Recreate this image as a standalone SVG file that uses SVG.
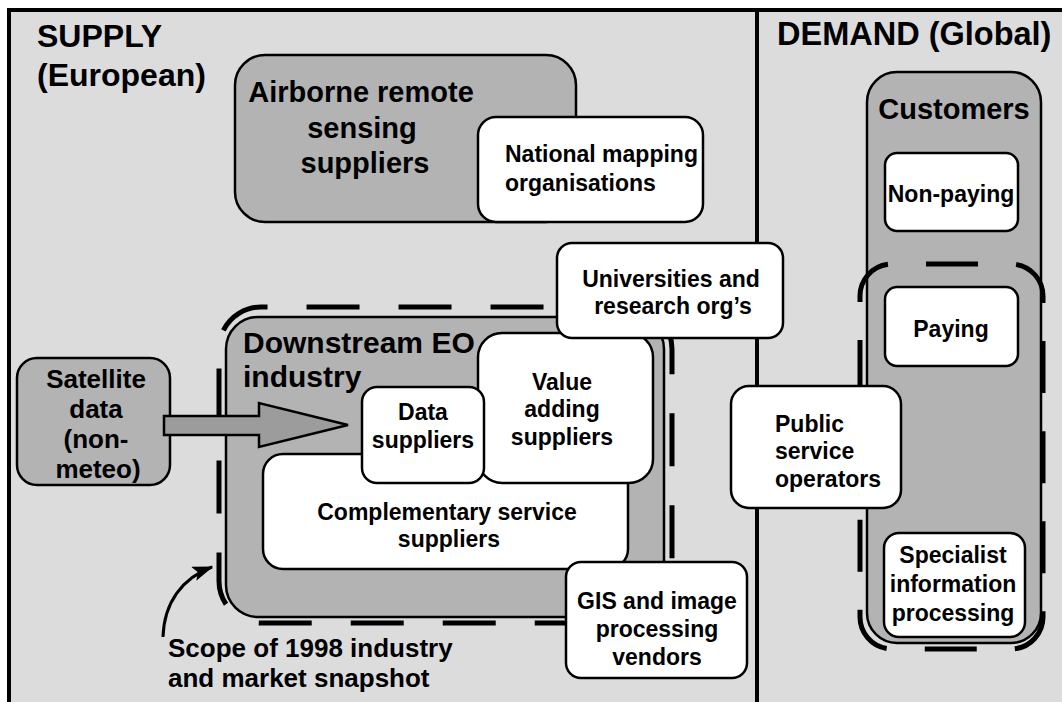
<svg xmlns="http://www.w3.org/2000/svg" width="1062" height="702" viewBox="0 0 1062 702">
<defs>
<style>
text{font-family:"Liberation Sans",Arial,sans-serif;font-weight:bold;fill:#000}
.box{stroke:#000;stroke-width:2.5}
.g{fill:#b3b3b3}
.w{fill:#fff}
.dash{fill:none;stroke:#000;stroke-width:5}
.t22{font-size:23px}
.c{text-anchor:middle}
</style>
<marker id="ah" viewBox="0 0 14 10" refX="13" refY="5" markerWidth="7" markerHeight="5" orient="auto"><path d="M0,0 L14,5 L0,10 L3,5 Z" fill="#000"/></marker>
</defs>
<rect x="0" y="0" width="1062" height="702" fill="#fff"/>
<rect x="9" y="10" width="1070" height="710" fill="#dcdcdc" stroke="#000" stroke-width="4"/>
<line x1="757" y1="10" x2="757" y2="702" stroke="#000" stroke-width="4"/>
<g id="supply-label"><text x="37" y="47" style="font-size:32px">SUPPLY</text><text x="37" y="86" style="font-size:32px">(European)</text></g>
<g id="demand-label"><text x="777" y="45" style="font-size:32.5px">DEMAND (Global)</text></g>
<g id="airborne"><rect class="box g" x="235" y="55" width="341" height="167" rx="30"/>
<text class="c" x="361" y="102" style="font-size:29px">Airborne remote</text><text class="c" x="362" y="138" style="font-size:29px">sensing</text><text class="c" x="365" y="173" style="font-size:29px">suppliers</text></g>
<g id="national"><rect class="box w" x="478" y="117" width="225" height="105" rx="18"/>
<text class="t22" x="505" y="162">National mapping</text><text class="t22" x="505" y="191">organisations</text></g>
<g id="downstream"><rect class="box g" x="226" y="317" width="438" height="300" rx="32"/>
<text x="243" y="353" style="font-size:30px">Downstream EO</text><text x="243" y="387" style="font-size:30px">industry</text></g>
<g id="scope"><path class="dash" d="M600,307 H630 A42,42 0 0 1 672,349 V581 A42,42 0 0 1 630,623 H261 A42,42 0 0 1 219,581 V349 A42,42 0 0 1 261,307 Z" stroke-dasharray="53 39" stroke-dashoffset="24"/></g>
<g id="complementary"><rect class="box w" x="263" y="454" width="365" height="115" rx="20"/>
<text class="c t22" x="447" y="520">Complementary service</text><text class="c t22" x="449" y="547">suppliers</text></g>
<g id="value"><rect class="box w" x="478" y="333" width="175" height="150" rx="24"/>
<text class="c t22" x="562" y="390">Value</text><text class="c t22" x="562" y="417">adding</text><text class="c t22" x="562" y="445">suppliers</text></g>
<g id="data"><rect class="box w" x="362" y="387" width="122" height="96" rx="15"/>
<text class="c t22" x="423" y="420">Data</text><text class="c t22" x="423" y="448">suppliers</text></g>
<g id="satellite"><rect class="box g" x="17" y="358" width="153" height="127" rx="20"/>
<text class="c" x="96" y="388" style="font-size:26px">Satellite</text><text class="c" x="96" y="418" style="font-size:26px">data</text><text class="c" x="96" y="448" style="font-size:26px">(non-</text><text class="c" x="98" y="478" style="font-size:26px">meteo)</text></g>
<g id="connectors">
<path d="M164,416 L259,416 L259,403 L348,425 L259,447 L259,435 L164,435 Z" fill="#9c9c9c" stroke="#000" stroke-width="2.5" stroke-linejoin="miter"/>
<path d="M163,637 C164,603 182,578 212,567" fill="none" stroke="#000" stroke-width="3" marker-end="url(#ah)"/>
</g>
<g id="universities"><rect class="box w" x="557" y="243" width="226" height="95" rx="15"/>
<text class="c t22" x="671" y="287">Universities and</text><text class="c t22" x="673" y="314">research org’s</text></g>
<g id="gis"><rect class="box w" x="566" y="562" width="181" height="116" rx="15"/>
<text class="c t22" x="657" y="609">GIS and image</text><text class="c t22" x="657" y="637">processing</text><text class="c t22" x="657" y="665">vendors</text></g>
<g id="customers"><rect class="box g" x="867" y="72" width="174" height="571" rx="30"/>
<text class="c" x="954" y="119" style="font-size:29px">Customers</text></g>
<g id="nonpaying"><rect class="box w" x="885" y="153" width="133" height="78" rx="12"/>
<text class="c t22" x="951" y="202">Non-paying</text></g>
<g id="paying"><rect class="box w" x="885" y="287" width="133" height="79" rx="12"/>
<text class="c t22" x="951" y="337">Paying</text></g>
<g id="specialist"><rect class="box w" x="884" y="533" width="141" height="104" rx="15"/>
<text class="c t22" x="953" y="563">Specialist</text><text class="c t22" x="953" y="592">information</text><text class="c t22" x="953" y="621">processing</text></g>
<g id="paying-scope"><path class="dash" d="M860,450 V296 A32,32 0 0 1 892,264 H1011 A32,32 0 0 1 1043,296 V617 A32,32 0 0 1 1011,649 H892 A32,32 0 0 1 860,617 Z" stroke-dasharray="52 38.1" stroke-dashoffset="32.1"/></g>
<g id="public"><rect class="box w" x="731" y="386" width="170" height="122" rx="18"/>
<text class="t22" x="775" y="432">Public</text><text class="t22" x="775" y="459">service</text><text class="t22" x="775" y="487">operators</text></g>
<g id="scope-note"><text x="168" y="657" style="font-size:26px">Scope of 1998 industry</text><text x="168" y="687" style="font-size:26px">and market snapshot</text></g>
</svg>
